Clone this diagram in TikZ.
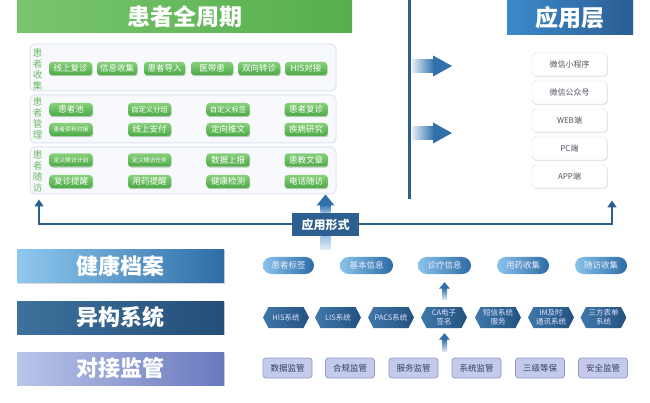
\documentclass[tikz,border=0pt]{standalone}
\usepackage{fontspec}
\setmainfont{Noto Sans CJK SC}
\usetikzlibrary{shapes.misc,shapes.symbols,shadows,arrows.meta,calc}
\pgfdeclarelayer{bg}
\pgfsetlayers{bg,main}
\definecolor{gA}{HTML}{88D07C}
\definecolor{gB}{HTML}{4CA946}
\definecolor{gH1}{HTML}{78C56D}
\definecolor{gH2}{HTML}{57AE4D}
\definecolor{gT}{HTML}{6DBA66}
\definecolor{frB}{HTML}{DDE3F3}
\definecolor{frF}{HTML}{F7F9FD}
\definecolor{navy}{HTML}{2C5F8F}
\definecolor{bH1}{HTML}{3C8ACB}
\definecolor{bH2}{HTML}{2A5D93}
\definecolor{itB}{HTML}{D6DAE2}
\definecolor{itT}{HTML}{505560}
\definecolor{pl1}{HTML}{8AC3EB}
\definecolor{pl2}{HTML}{2C6BA5}
\definecolor{hx1}{HTML}{3F78AA}
\definecolor{hx2}{HTML}{24527F}
\definecolor{lv}{HTML}{C3CAEA}
\definecolor{lvB}{HTML}{8E9ACF}
\definecolor{lvT}{HTML}{363C5E}
\definecolor{haloC}{HTML}{D3DBEE}
\definecolor{la1}{HTML}{8FC9EF}
\definecolor{la2}{HTML}{2E6CA7}
\definecolor{lb1}{HTML}{3E719D}
\definecolor{lb2}{HTML}{234E78}
\definecolor{lc1}{HTML}{BAC5E9}
\definecolor{lc2}{HTML}{6879BD}
\definecolor{arB}{HTML}{3270AA}
\definecolor{arL}{HTML}{E4EDF7}
\definecolor{arM}{HTML}{9CC1E3}
\newcommand\fsz[1]{\fontsize{#1}{#1}\selectfont}
\newcommand\halo[1]{\foreach \e/\o in {16/0.2,11/0.25,7/0.3,4/0.35,1.5/0.4}{\fill[haloC,opacity=\o,rounded corners=\e pt] ($(#1.north west)+(-\e,-\e)$) rectangle ($(#1.south east)+(\e,\e)$);}}
\newcommand\myUpArr[2]{%
  \shade[top color=arB, bottom color=arL] ($(#1.north)+(-2.5,0)$) rectangle ($(#2.south)+(2.5,6)$);
  \fill[arB] ($(#2.south)+(-5.5,6.5)$) -- (#2.south) -- ($(#2.south)+(5.5,6.5)$) -- cycle;}
\begin{document}
\begin{tikzpicture}[x=1pt,y=-1pt,
  every node/.style={inner sep=0pt, align=center},
  hdr/.style={minimum height=#1, text=white, font=\bfseries\fsz{23}},
  frame/.style={draw=frB, fill=frF, line width=1pt, rounded corners=5pt, minimum width=306},
  vlab/.style={text=gT, font=\fontsize{9.5}{11}\selectfont},
  gbtn/.style={rounded corners=3pt, top color=gA, bottom color=gB, text=white, minimum height=13, minimum width=#1, font=\fsz{8.5},
    drop shadow={shadow xshift=0.6pt,shadow yshift=-1.2pt,fill=gB!70!black,opacity=0.35}},
  gbtn/.default=43,
  itm/.style={draw=itB, fill=white, rounded corners=4pt, minimum width=75, minimum height=23, text=itT, font=\fsz{8},
    drop shadow={shadow xshift=0.8pt,shadow yshift=-1pt,fill=black,opacity=0.1}},
  pill/.style={rounded corners=8.5pt, left color=pl1, right color=pl2, minimum height=17, minimum width=#1, text=white!92!blue, font=\fsz{8.5}},
  hexa/.style={signal, signal to=west and east, signal pointer angle=125, left color=hx1, right color=hx2, minimum width=46, minimum height=21, text=white!88!blue, font=\fontsize{7.5}{8.8}\selectfont},
  lav/.style={draw=lvB, fill=lv, rounded corners=3pt, minimum width=49, minimum height=20, text=lvT, font=\fsz{8.5}, line width=0.8pt},
  blab/.style={minimum width=207, minimum height=33, text=white, font=\bfseries\fsz{22},
    drop shadow={shadow xshift=0.5pt,shadow yshift=-1pt,fill=black,opacity=0.15}},
  rowp/.style={fill=white, minimum width=375, minimum height=33},
  conn/.style={draw=navy, line width=2pt, -{Triangle[width=9pt,length=7pt]}}
]
\useasboundingbox (0,0) rectangle (650,403);
\fill[white] (0,0) rectangle (650,403);

% ---------- left block ----------
\node[hdr=33, left color=gH1, right color=gH2, minimum width=335] (hdrL) at (184.5,16.5) {患者全周期};
\node[fill=white, minimum width=335, minimum height=161] (panL) at (184.5,119.5) {};
\node[frame, minimum height=47] (f1) at (183,67.5) {};
\node[frame, minimum height=48] (f2) at (183,119) {};
\node[frame, minimum height=47] (f3) at (183,170.5) {};
\node[vlab] (v1) at (37.5,69) {患\\者\\收\\集};
\node[vlab] (v2) at (37.5,118) {患\\者\\管\\理};
\node[vlab] (v3) at (37.5,171) {患\\者\\随\\访};

\node[gbtn] (a1) at (70.5,68.5) {线上复诊};
\node[gbtn=40] (a2) at (117,68.5) {信息收集};
\node[gbtn=41] (a3) at (164.5,68.5) {患者导入};
\node[gbtn=42] (a4) at (212,68.5) {医带患};
\node[gbtn=42] (a5) at (259,68.5) {双向转诊};
\node[gbtn=42] (a6) at (306,68.5) {HIS对接};

\node[gbtn] (b1) at (71,109.5) {患者池};
\node[gbtn] (b2) at (149.5,109.5) {\fsz{7.3}自定义分组};
\node[gbtn] (b3) at (228,109.5) {\fsz{7.3}自定义标签};
\node[gbtn] (b4) at (306,109.5) {患者复诊};
\node[gbtn] (b5) at (71,129.5) {\fsz{5.8}患者资料对接};
\node[gbtn] (b6) at (149.5,129.5) {线上支付};
\node[gbtn] (b7) at (228,129.5) {定向推文};
\node[gbtn] (b8) at (306,129.5) {疾病研究};

\node[gbtn] (c1) at (71,160) {\fsz{5.8}定义随访计划};
\node[gbtn] (c2) at (149.5,160) {\fsz{5.8}定义随访任务};
\node[gbtn] (c3) at (228,160) {数据上报};
\node[gbtn] (c4) at (306,160) {患教文章};
\node[gbtn] (c5) at (71,181.5) {复诊提醒};
\node[gbtn] (c6) at (149.5,181.5) {用药提醒};
\node[gbtn] (c7) at (228,181.5) {健康检测};
\node[gbtn] (c8) at (306,181.5) {电话随访};

% ---------- divider and big arrows ----------
\coordinate (dvT) at (409,0);
\coordinate (dvB) at (409,199);
\draw[navy, line width=3pt] (dvT) -- (dvB);
\foreach \yy in {66,133}{
  \shade[left color=arL, right color=arB] (412,\yy-6.5) rectangle (434,\yy+6.5);
  \fill[arB] (433,\yy-10.5) -- (452,\yy) -- (433,\yy+10.5) -- cycle;
}

% ---------- right block ----------
\node[hdr=34, left color=bH1, right color=bH2, minimum width=126] (hdrR) at (570,18) {应用层};
\node[fill=white, minimum width=126, minimum height=159] (panR) at (570,120.5) {};
\node[itm] (w1) at (569.5,64.5) {微信小程序};
\node[itm] (w2) at (569.5,92.5) {微信公众号};
\node[itm] (w3) at (569.5,120.5) {WEB端};
\node[itm] (w4) at (569.5,148.5) {PC端};
\node[itm] (w5) at (569.5,176.5) {APP端};

% ---------- application form connector ----------
\node[fill=navy, text=white, font=\bfseries\fsz{12}, minimum width=67, minimum height=23] (yyxs) at (325.5,224.5) {应用形式};
\coordinate (lTip) at (39,199.5);
\coordinate (rTip) at (612,200.5);
\draw[conn] (yyxs.west) -| (lTip);
\draw[conn] (yyxs.east) -| (rTip);
\coordinate (mTip) at (325.5,194.5);
\shade[top color=arB, bottom color=arM] ($(yyxs.north)+(-5,0)$) rectangle ($(mTip)+(5,10)$);
\fill[arB] ($(mTip)+(-9,11)$) -- (mTip) -- ($(mTip)+(9,11)$) -- cycle;

% ---------- bottom left labels ----------
\node[blab, left color=la1, right color=la2] (jkda) at (120.5,266) {健康档案};
\node[blab, left color=lb1, right color=lb2] (ygxt) at (120.5,317.5) {异构系统};
\node[blab, left color=lc1, right color=lc2] (djjg) at (120.5,368.5) {对接监管};

% ---------- bottom right rows ----------
\node[rowp, minimum height=32] (r1) at (444.5,266) {};
\node[rowp] (r2) at (444.5,316.5) {};
\node[rowp] (r3) at (444.5,368.5) {};
\shade[top color=arM, bottom color=arL] ($(yyxs.south)+(-5,0)$) rectangle ($(yyxs.south |- r1.north)+(5,0)$);

\node[pill=51] (p1) at (288.5,265.5) {患者标签};
\node[pill=53] (p2) at (366.5,265.5) {基本信息};
\node[pill=53] (p3) at (444.5,265.5) {诊疗信息};
\node[pill=52] (p4) at (523,265.5) {用药收集};
\node[pill=52] (p5) at (601,265.5) {随访收集};

\node[hexa] (h1) at (286,317.5) {HIS系统};
\node[hexa] (h2) at (338,317.5) {LIS系统};
\node[hexa] (h3) at (391,317.5) {PACS系统};
\node[hexa] (h4) at (444,317.5) {CA电子\\签名};
\node[hexa] (h5) at (498,317.5) {短信系统\\服务};
\node[hexa] (h6) at (551,317.5) {IM及时\\通讯系统};
\node[hexa] (h7) at (603.5,317.5) {三方表单\\系统};

\node[lav] (m1) at (287.5,368) {数据监管};
\node[lav] (m2) at (350,368) {合规监管};
\node[lav] (m3) at (413.5,368) {服务监管};
\node[lav] (m4) at (476.5,368) {系统监管};
\node[lav] (m5) at (540,368) {三级等保};
\node[lav] (m6) at (603,368) {安全监管};

\myUpArr{r2}{r1}
\myUpArr{r3}{r2}

\begin{pgfonlayer}{bg}
\halo{panL}
\halo{panR}
\halo{r1}
\halo{r2}
\halo{r3}
\end{pgfonlayer}
\end{tikzpicture}
\end{document}
